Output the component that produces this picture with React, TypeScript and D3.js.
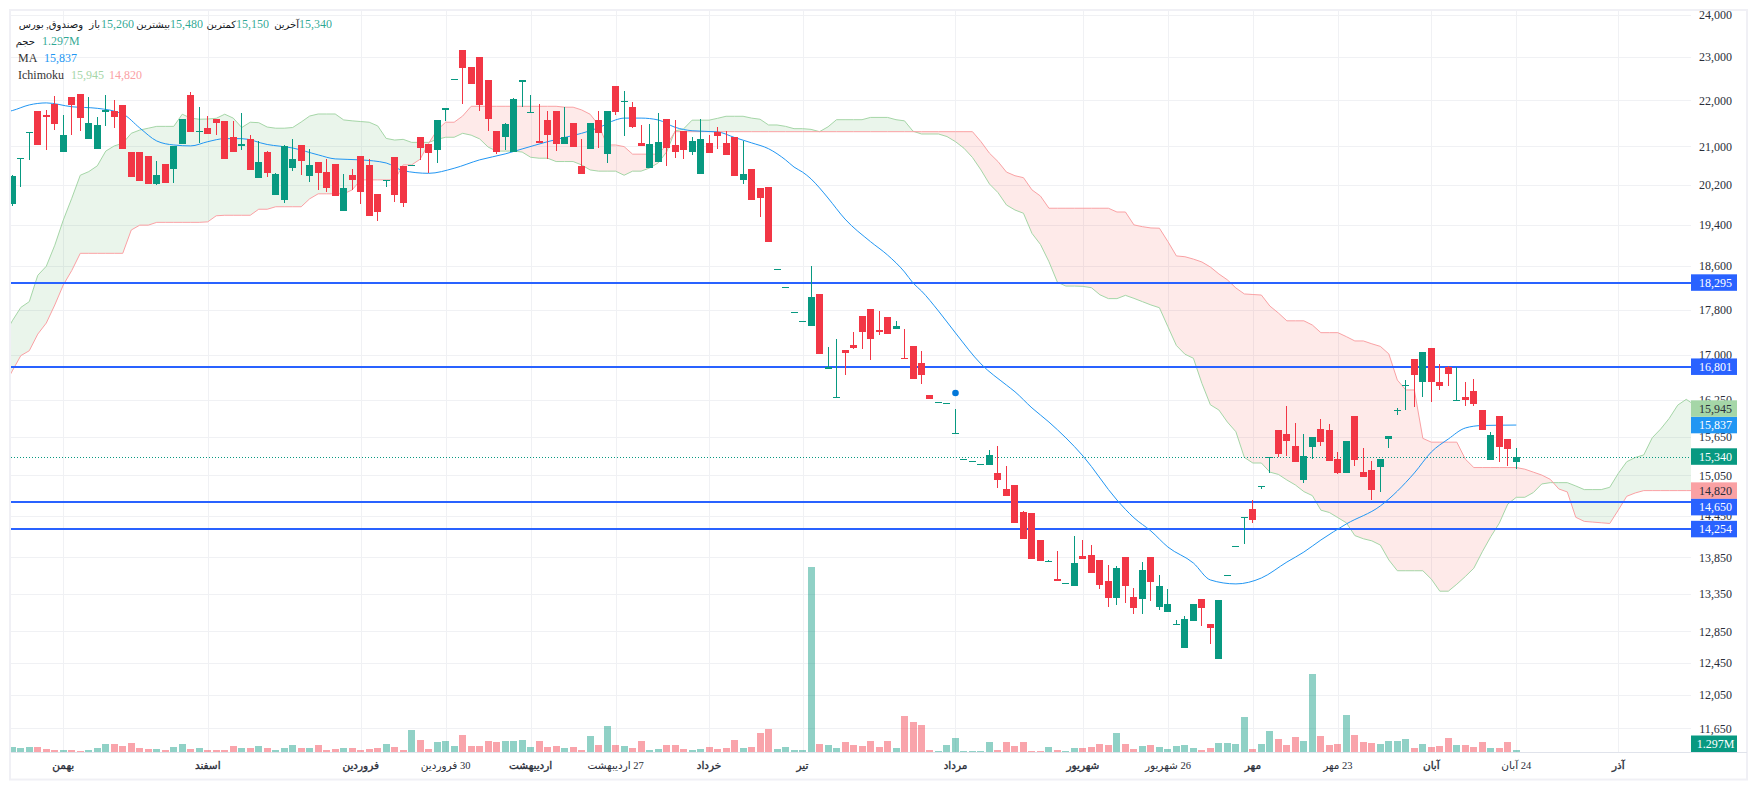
import * as d3 from "d3";

const WIDTH = 1757;
const HEIGHT = 790;

// candles, oldest first
const opens = [
  19810, 20730, 21290, 21770, 21680, 21930, 20880, 22080, 22145, 21160,
  20945, 21750, 21770, 21900, 20880, 20880, 20800, 20215, 20630, 20525,
  21050, 22120, 21310, 21395, 21590, 21550, 21200, 21010, 21160, 20340,
  20880, 19990, 19890, 20545, 21030, 20380, 20670, 20465, 20630, 19670,
  20400, 20800, 20610, 20010, 20290, 20780, 20595, 20600, 21200, 21050,
  20925, 21790, 22470, 23150, 22760, 22990, 22450, 21330, 21200, 20880,
  22410, 21720, 21115, 21570, 21770, 21050, 21505, 20590, 20945, 21570,
  20840, 22320, 21965, 21855, 21070, 20545, 20670, 21590, 21030, 21330,
  20880, 20420, 21070, 21310, 21070, 21200, 20300, 20525, 20135, 20155,
  18530, 18200, 17740, 17580, 17510, 18080, 16760, 16280, 17090, 17170,
  17690, 17810, 17440, 17670, 17460, 16950, 17160, 16860, 16330, 16200,
  16180, 15700, 15290, 15260, 15210, 15210, 15090, 14840, 14900, 14500,
  14490, 14100, 13790, 13550, 13490, 13450, 13870, 13880, 13810, 13520,
  13290, 13860, 13310, 13280, 13860, 13170, 13100, 12940, 12640, 12990,
  13280, 12950, 12500, 13590, 14000, 14420, 14540, 14870, 15320, 15760,
  15690, 15500, 14980, 15490, 15770, 15760, 15300, 15090, 15980, 15100,
  15130, 15180, 15610, 16060, 16470, 16930, 16540, 17120, 16540, 16800,
  16230, 16290, 16390, 16080, 15290, 15980, 15610, 15260,
];
const closes = [
  20380, 20750, 21310, 21030, 21630, 21480, 21240, 21900, 21610, 21500,
  21460, 21790, 21635, 20945, 20360, 20280, 20215, 20400, 20235, 21010,
  21590, 21310, 21330, 21265, 21505, 20735, 20880, 21050, 20505, 20670,
  20440, 20420, 21010, 20735, 20690, 20610, 20440, 20135, 19970, 20135,
  20300, 20055, 19570, 19650, 20300, 19990, 19830, 20610, 20965, 20860,
  21570, 21830, 22490, 22730, 22370, 21900, 21590, 20880, 21480, 22030,
  22450, 21745, 21070, 21240, 21050, 21200, 20985, 20420, 21505, 21285,
  21770, 21745, 21990, 21415, 21010, 21050, 21095, 20965, 20880, 20925,
  21115, 21160, 20860, 21220, 20820, 20380, 20420, 19890, 19930, 19060,
  18550, 18220, 17760, 17600, 18030, 17020, 16790, 16290, 17030, 17120,
  17400, 17280, 17400, 17370, 17510, 16930, 16590, 16660, 16260, 16210,
  16190, 15710, 15300, 15270, 15220, 15360, 14980, 14740, 14340, 14110,
  13830, 13800, 13800, 13520, 13500, 13770, 13830, 13630, 13470, 13290,
  13700, 13450, 13160, 13680, 13510, 13450, 13210, 12950, 13010, 13210,
  13160, 12900, 13270, 13600, 14010, 14430, 14380, 14890, 15340, 15380,
  15580, 15260, 15350, 15650, 15570, 15270, 15090, 15580, 15290, 15030,
  14830, 15300, 15660, 16080, 16490, 16660, 17050, 16540, 16470, 16680,
  16240, 16240, 16180, 15760, 15680, 15490, 15460, 15340,
];
const highs = [
  20400, 20750, 21310, 21770, 21790, 22100, 21680, 22080, 22145, 22080,
  21635, 22120, 22010, 21900, 20880, 20880, 20800, 20690, 20630, 21010,
  21590, 22190, 21855, 21655, 21590, 21550, 21550, 21720, 21240, 21115,
  20900, 20440, 21030, 21160, 21030, 20945, 20670, 20735, 20630, 20420,
  20525, 20800, 20735, 20010, 20300, 20780, 20595, 20610, 21200, 21050,
  21570, 21830, 22490, 23150, 22760, 22990, 22470, 21330, 21505, 22055,
  22450, 22120, 21920, 21770, 21770, 21855, 21505, 21160, 21505, 21770,
  21770, 22320, 22210, 21965, 21460, 21480, 21720, 21590, 21570, 21330,
  21200, 21590, 21240, 21415, 21330, 21200, 21115, 20525, 20135, 20155,
  18550, 18220, 17760, 17600, 18600, 18080, 17140, 17280, 17090, 17400,
  17690, 17810, 17770, 17670, 17600, 17450, 17160, 17070, 16330, 16210,
  16190, 16100, 15300, 15270, 15220, 15440, 15500, 15190, 14900, 14520,
  14490, 14100, 13810, 13940, 13500, 14150, 14100, 14030, 13810, 13740,
  13730, 13860, 13430, 13790, 13860, 13610, 13410, 13000, 13050, 13210,
  13280, 12950, 13270, 13600, 14010, 14430, 14680, 14890, 15340, 15760,
  16150, 15870, 15690, 15650, 15930, 15850, 15410, 15580, 15980, 15470,
  15270, 15300, 15660, 16110, 16580, 16930, 17050, 17120, 16850, 16810,
  16800, 16540, 16590, 16080, 15725, 15980, 15610, 15480,
];
const lows = [
  19760, 20160, 20710, 21030, 20920, 21350, 20880, 21240, 21330, 21160,
  20945, 21440, 21390, 20945, 20360, 20280, 20215, 20195, 20235, 20235,
  21050, 21310, 21070, 21265, 21240, 20735, 20880, 20925, 20505, 20340,
  20360, 19990, 19830, 20485, 20400, 20260, 20095, 20055, 19970, 19670,
  20095, 19810, 19570, 19470, 20155, 19850, 19750, 20600, 20715, 20435,
  20650, 21550, 22470, 21920, 22370, 21770, 21330, 20840, 20925, 20880,
  21855, 21720, 21070, 20735, 20900, 21050, 20985, 20420, 20945, 20965,
  20650, 21680, 21220, 21395, 21010, 20545, 20670, 20590, 20755, 20735,
  20820, 20420, 20860, 20945, 20820, 20380, 20215, 19890, 19550, 19060,
  18530, 18200, 17740, 17580, 17510, 17020, 16760, 16280, 16660, 17100,
  17100, 16910, 17350, 17370, 17460, 16930, 16590, 16510, 16260, 16200,
  16180, 15700, 15290, 15260, 15210, 15210, 14860, 14740, 14340, 14110,
  13830, 13800, 13790, 13520, 13490, 13450, 13830, 13630, 13410, 13170,
  13200, 13230, 13080, 13080, 13250, 13130, 13100, 12940, 12640, 12990,
  12920, 12690, 12500, 13590, 14000, 14040, 14340, 14840, 15090, 15330,
  15350, 15260, 14930, 15300, 15500, 15270, 15070, 15090, 15190, 15030,
  14680, 14800, 15470, 16000, 16080, 16130, 16290, 16210, 16410, 16470,
  16230, 16150, 16150, 15760, 15290, 15260, 15190, 15150,
];
// millions
const volumes = [
  2.95, 2.4, 2.95, 2.95, 1.85, 1.3, 1.3, 1.3, 0.75, 1.3,
  2.4, 4.6, 4.6, 3.5, 5.15, 2.4, 1.85, 1.85, 1.3, 2.95,
  4.6, 1.85, 2.4, 1.3, 1.3, 1.3, 3.5, 2.4, 2.4, 3.5,
  2.4, 1.3, 2.4, 4.05, 2.4, 2.4, 4.05, 1.3, 1.85, 2.4,
  2.4, 1.3, 1.85, 2.4, 4.6, 2.95, 1.3, 12.3, 6.8, 1.85,
  5.7, 6.25, 3.5, 9.5, 3.5, 3.5, 6.25, 5.7, 6.25, 6.25,
  6.8, 2.95, 6.25, 2.95, 3.5, 2.4, 2.95, 1.3, 9, 4.05,
  14.5, 4.05, 3.5, 2.4, 6.25, 1.3, 1.85, 4.05, 4.05, 1.85,
  1.3, 1.85, 2.95, 1.85, 2.4, 6.8, 2.4, 2.95, 10.6, 12.8,
  1.85, 2.95, 1.3, 1.3, 101.8, 4.6, 4.05, 2.4, 5.7, 4.05,
  3.5, 6.25, 2.95, 6.25, 2.4, 20, 16.7, 15, 1.3, 0.75,
  4.05, 7.9, 0.75, 0.75, 0.75, 5.7, 1.3, 5.7, 3.5, 5.7,
  0.75, 0.75, 2.95, 1.3, 0.75, 2.4, 2.4, 2.95, 4.6, 4.05,
  10.6, 4.6, 1.85, 3.5, 4.05, 2.95, 1.85, 3.5, 4.05, 2.4,
  1.3, 2.4, 5.15, 5.15, 4.6, 19.4, 1.85, 4.6, 11.7, 7.35,
  4.05, 8.4, 6.25, 43, 9, 4.05, 4.6, 20.5, 9.5, 5.7,
  5.15, 4.6, 6.25, 6.25, 7.35, 2.4, 4.6, 2.95, 3.5, 7.9,
  4.05, 4.05, 2.95, 5.7, 2.4, 2.4, 5.7, 1.297,
];

// moving average, read at these candle numbers
const maIndex = [
  -1, 0, 2, 4, 7, 10, 13, 15, 17, 19, 21, 23, 25, 27, 30, 33, 36, 38, 41, 44, 46,
  49, 52, 55, 58, 60, 63, 65, 67, 69, 71, 72, 74, 76, 78, 80, 83, 85, 87, 89, 91,
  92, 93, 94, 95, 96, 98, 101, 103, 105, 106, 107, 109, 111, 114, 117, 118, 120, 122, 126, 130, 132, 134, 136, 139,
  141, 144, 147, 150, 152, 154, 157, 161, 165, 167, 169, 171, 173, 177,
];
const maValues = [
  21730, 21775, 21900, 21945, 21860, 21825, 21700, 21395, 21115, 21030, 21010, 21100, 21165, 21165, 21040, 20965, 20820, 20735, 20715, 20650, 20490,
  20435, 20540, 20715, 20840, 20945, 21100, 21190, 21280, 21400, 21570, 21610, 21610, 21570, 21410, 21335, 21310, 21190, 21075, 20950, 20715,
  20565, 20460, 20320, 20135, 19930, 19510, 19069, 18813, 18493, 18288, 18140, 17775, 17385, 16848, 16491, 16380, 16114, 15885, 15349, 14680, 14418, 14226, 13997, 13772,
  13538, 13484, 13565, 13786, 13926, 14097, 14328, 14592, 15087, 15411, 15615, 15790, 15830, 15837,
];

// ichimoku spans start one candle before the first candle, run 21 past the last
const cloudStart = -1;
const spanA = [
  17330, 17600, 17840, 17945, 18430, 18600, 19000, 19490, 19925, 20395,
  20470, 20590, 20900, 21010, 21065, 21280, 21350, 21390, 21430, 21430,
  21430, 21695, 21610, 21585, 21590, 21605, 21695, 21610, 21405, 21520,
  21510, 21415, 21390, 21390, 21405, 21525, 21655, 21700, 21700, 21700,
  21570, 21550, 21535, 21520, 21440, 21170, 21135, 21150, 21085, 21085,
  21085, 21150, 21195, 21195, 21280, 21240, 21160, 20985, 20900, 20900,
  20900, 20880, 20770, 20750, 20750, 20680, 20680, 20680, 20610, 20505,
  20480, 20480, 20480, 20395, 20480, 20480, 20545, 20650, 20880, 21330,
  21375, 21565, 21565, 21565, 21605, 21650, 21650, 21650, 21610, 21585,
  21460, 21460, 21430, 21380, 21380, 21365, 21315, 21420, 21575, 21575,
  21575, 21575, 21625, 21625, 21625, 21575, 21550, 21325, 21265, 21265,
  21265, 21210, 21100, 20960, 20765, 20505, 20215, 20040, 19790, 19690,
  19625, 19230, 19015, 18685, 18300, 18230, 18230, 18225, 18200, 18070,
  18000, 18000, 18060, 18005, 17945, 17885, 17835, 17495, 17165, 17015,
  16945, 16520, 16165, 16080, 15885, 15730, 15325, 15240, 15240, 15100,
  15065, 14980, 14905, 14805, 14745, 14530, 14495, 14420, 14345, 14160,
  14115, 14085, 14025, 13815, 13665, 13665, 13665, 13665, 13550, 13385,
  13385, 13480, 13585, 13700, 13930, 14145, 14340, 14620, 14720, 14720,
  14790, 14920, 14940, 14940, 14940, 14890, 14835, 14835, 14835, 14870,
  15080, 15260, 15325, 15365, 15635, 15775, 15945, 16160, 16255, 16160,
];
const spanB = [
  16470, 16730, 16990, 17075, 17365, 17560, 17885, 18250, 18520, 18845,
  18845, 18845, 18845, 18845, 18845, 19295, 19390, 19390, 19445, 19445,
  19445, 19445, 19445, 19445, 19455, 19575, 19585, 19585, 19585, 19585,
  19705, 19705, 19755, 19755, 19755, 19755, 19915, 20015, 20015, 20015,
  20015, 20095, 20300, 20300, 20300, 20300, 20300, 20610, 20610, 20730,
  21065, 21350, 21520, 21520, 21655, 21870, 21870, 21870, 21870, 21870,
  21870, 21870, 21870, 21870, 21870, 21870, 21850, 21850, 21790, 21695,
  21460, 21030, 21030, 20995, 20835, 20835, 20835, 20835, 21030, 21315,
  21315, 21315, 21315, 21315, 21315, 21315, 21315, 21315, 21315, 21315,
  21315, 21315, 21315, 21315, 21315, 21315, 21315, 21315, 21315, 21315,
  21315, 21315, 21315, 21315, 21315, 21315, 21315, 21315, 21315, 21315,
  21315, 21315, 21315, 21315, 21315, 21100, 20855, 20680, 20460, 20385,
  20345, 20095, 19970, 19725, 19725, 19725, 19725, 19725, 19725, 19725,
  19725, 19650, 19650, 19395, 19360, 19335, 19330, 19070, 18795, 18780,
  18735, 18680, 18585, 18455, 18345, 18195, 18085, 18075, 18065, 17865,
  17740, 17600, 17600, 17600, 17525, 17390, 17390, 17390, 17320, 17245,
  17245, 17195, 17150, 17020, 16575, 16410, 16410, 15625, 15565, 15565,
  15565, 15565, 15300, 15170, 15170, 15170, 15170, 15170, 15170, 15145,
  15100, 15055, 14990, 14845, 14800, 14425, 14365, 14355, 14345, 14335,
  14530, 14735, 14785, 14820, 14820, 14820, 14820, 14820, 14820, 14820,
];

const priceTicks = [24000, 23000, 22000, 21000, 20200, 19400, 18600, 17800, 17000, 16250, 15650, 15050, 14450, 13850, 13350, 12850, 12450, 12050, 11650];
const levelLines = [18295, 16801, 14650, 14254];
const lastClose = 15340;
const maLast = 15837;
const spanALast = 15945;
const spanBLast = 14820;
const markerIndex = 111;
const markerPrice = 16360;

const timeTicks = [6, 23, 41, 51, 61, 71, 82, 93, 111, 126, 136, 146, 156, 167, 177, 189];
const timeLabels = ["بهمن", "اسفند", "فروردین", "30 فروردین", "اردیبهشت", "27 اردیبهشت", "خرداد", "تیر", "مرداد", "شهریور", "26 شهریور", "مهر", "23 مهر", "آبان", "24 آبان", "آذر"];
const timeLabelBold = [true, true, true, false, true, false, true, true, true, true, false, true, false, true, false, true];

const UP = "#089981";
const DOWN = "#f23645";
const MA_COLOR = "#2196f3";
const SPAN_A_COLOR = "#a5d6a7";
const SPAN_B_COLOR = "#faa1a4";
const LEVEL_COLOR = "#2962ff";
const GRID = "#f0f1f4";
const FRAME = "#f0f0f5";
const TEXT = "#2a2e39";
const SERIF = "'Liberation Serif', 'Times New Roman', serif";
const PERSIAN = "'Liberation Serif', 'DejaVu Sans', sans-serif";

const plot = { left: 11, right: 1691, top: 11, bottom: 752 };
const TAG_H = 16.5;

const x = d3.scaleLinear().domain([0, 177]).range([12.3, 1516.3]);
const y = d3.scaleLog().domain([24000, 11650]).range([14.5, 728.3]);
const vol = d3.scaleLinear().domain([0, 100]).range([plot.bottom, plot.bottom - 181.8]);

const fmt = d3.format(",");

const cloud = spanA.map((a, i) => ({ i: i + cloudStart, a, b: spanB[i] }));
type CloudPt = (typeof cloud)[number];
const lineA = d3.line<CloudPt>().x((d) => x(d.i)).y((d) => y(d.a));
const lineB = d3.line<CloudPt>().x((d) => x(d.i)).y((d) => y(d.b));
const between = d3.area<CloudPt>().x((d) => x(d.i)).y0((d) => y(d.a)).y1((d) => y(d.b));
const aboveB = d3.area<CloudPt>().x((d) => x(d.i)).y0(plot.top).y1((d) => y(d.b));
const belowB = d3.area<CloudPt>().x((d) => x(d.i)).y0(plot.bottom).y1((d) => y(d.b));

const maLine = d3
  .line<number>()
  .x((d) => x(d))
  .y((_, i) => y(maValues[i]))
  .curve(d3.curveMonotoneX);

// price tags on the axis, pushed apart when they would overlap; earlier ones stay put
function layoutTags() {
  const tags = [
    { value: lastClose, bg: UP, fg: "#fff" },
    { value: maLast, bg: MA_COLOR, fg: "#fff" },
    { value: spanBLast, bg: SPAN_B_COLOR, fg: TEXT },
    { value: levelLines[0], bg: LEVEL_COLOR, fg: "#fff" },
    { value: levelLines[1], bg: LEVEL_COLOR, fg: "#fff" },
    { value: levelLines[3], bg: LEVEL_COLOR, fg: "#fff" },
    { value: levelLines[2], bg: LEVEL_COLOR, fg: "#fff" },
    { value: spanALast, bg: SPAN_A_COLOR, fg: TEXT },
  ];
  const placed: { value: number; bg: string; fg: string; cy: number }[] = [];
  tags.forEach((t) => {
    let cy = y(t.value);
    placed.forEach((p) => {
      if (Math.abs(cy - p.cy) < TAG_H) cy = cy < p.cy ? p.cy - TAG_H : p.cy + TAG_H;
    });
    placed.push({ ...t, cy });
  });
  return placed;
}

export default function App() {
  const tags = layoutTags();
  return (
    <svg width={WIDTH} height={HEIGHT} style={{ position: "absolute", left: 0, top: 0, background: "#fff" }}>
      <defs>
        <clipPath id="plot-clip">
          <rect x={plot.left} y={plot.top} width={plot.right - plot.left} height={plot.bottom - plot.top} />
        </clipPath>
        <clipPath id="above-b">
          <path d={aboveB(cloud) ?? ""} />
        </clipPath>
        <clipPath id="below-b">
          <path d={belowB(cloud) ?? ""} />
        </clipPath>
      </defs>

      {/* frame */}
      <rect x={10} y={10} width={1737} height={769.5} fill="none" stroke={FRAME} strokeWidth={2} />

      {/* grid */}
      {priceTicks.map((t) => (
        <line key={t} x1={plot.left} x2={plot.right} y1={Math.round(y(t)) + 0.5} y2={Math.round(y(t)) + 0.5} stroke={GRID} />
      ))}
      {timeTicks.map((t) => (
        <line key={t} x1={Math.round(x(t)) + 0.5} x2={Math.round(x(t)) + 0.5} y1={plot.top} y2={plot.bottom} stroke={GRID} />
      ))}
      <line x1={plot.left} x2={plot.right + 56} y1={plot.bottom + 0.5} y2={plot.bottom + 0.5} stroke="#e0e3eb" />

      <g clipPath="url(#plot-clip)">
        {/* volume */}
        {volumes.map((v, i) => {
          const bx = Math.round(x(i) - 3.5);
          const top = Math.round(vol(v));
          return (
            <rect
              key={i}
              x={bx}
              y={top}
              width={7}
              height={plot.bottom - top}
              fill={closes[i] >= opens[i] ? UP : DOWN}
              fillOpacity={0.45}
            />
          );
        })}

        {/* ichimoku cloud */}
        <path d={between(cloud) ?? ""} fill="#43a047" fillOpacity={0.11} clipPath="url(#above-b)" />
        <path d={between(cloud) ?? ""} fill="#f44336" fillOpacity={0.11} clipPath="url(#below-b)" />
        <path d={lineA(cloud) ?? ""} fill="none" stroke={SPAN_A_COLOR} strokeWidth={1} />
        <path d={lineB(cloud) ?? ""} fill="none" stroke={SPAN_B_COLOR} strokeWidth={1} />

        {/* level lines */}
        {levelLines.map((l) => (
          <line key={l} x1={plot.left} x2={plot.right} y1={Math.round(y(l))} y2={Math.round(y(l))} stroke={LEVEL_COLOR} strokeWidth={2} />
        ))}

        <line
          x1={plot.left}
          x2={plot.right}
          y1={Math.round(y(lastClose)) + 0.5}
          y2={Math.round(y(lastClose)) + 0.5}
          stroke={UP}
          strokeDasharray="1 2"
        />

        <path d={maLine(maIndex) ?? ""} fill="none" stroke={MA_COLOR} strokeWidth={1} />

        {/* candles */}
        {opens.map((o, i) => {
          const c = closes[i];
          const color = c >= o ? UP : DOWN;
          const bx = Math.round(x(i) - 3.5);
          const top = Math.round(y(Math.max(o, c)));
          const bottom = Math.round(y(Math.min(o, c)));
          const wickTop = Math.round(y(highs[i]));
          const wickBottom = Math.round(y(lows[i]));
          return (
            <g key={i} fill={color}>
              <rect x={bx + 3} y={wickTop} width={1} height={Math.max(0, wickBottom - wickTop)} />
              <rect x={bx} y={top} width={7} height={Math.max(1, bottom - top)} />
            </g>
          );
        })}

        <circle cx={x(markerIndex)} cy={y(markerPrice)} r={3.3} fill="#0277d9" />
      </g>

      {/* price axis */}
      <g fontFamily={SERIF} fontSize={12} fill={TEXT} textAnchor="middle">
        {priceTicks.map((t) => (
          <text key={t} x={1715.5} y={y(t)} dy="0.35em">
            {fmt(t)}
          </text>
        ))}
        {tags.map((t) => (
          <g key={t.value}>
            <rect x={plot.right} y={t.cy - TAG_H / 2} width={46} height={TAG_H} fill={t.bg} />
            <text x={1715.5} y={t.cy} dy="0.35em" fill={t.fg}>
              {fmt(t.value)}
            </text>
          </g>
        ))}
        <rect x={plot.right} y={plot.bottom - TAG_H} width={46} height={TAG_H} fill={UP} />
        <text x={1715.5} y={plot.bottom - TAG_H / 2} dy="0.35em" fill="#fff">
          1.297M
        </text>
      </g>

      {/* time axis */}
      <g fontFamily={PERSIAN} fontSize={10.5} fill={TEXT} textAnchor="middle">
        {timeTicks.map((t, i) => (
          <text
            key={t}
            x={x(t)}
            y={765}
            dy="0.35em"
            direction="rtl"
            stroke={timeLabelBold[i] ? TEXT : "none"}
            strokeWidth={0.35}
          >
            {timeLabels[i]}
          </text>
        ))}
      </g>

      {/* legend */}
      <g fontSize={10} fontFamily={PERSIAN} dominantBaseline="central">
        <g fill="#131722">
          <text x={83} y={24} textAnchor="end">وصندوق, بورس</text>
          <text x={100} y={24} textAnchor="end">باز</text>
          <text x={170} y={24} textAnchor="end">بیشترین</text>
          <text x={236} y={24} textAnchor="end">کمترین</text>
          <text x={299} y={24} textAnchor="end">آخرین</text>
          <text x={35} y={41} textAnchor="end">حجم</text>
        </g>
        <g fill={UP} fillOpacity={0.85} fontFamily={SERIF} fontSize={12}>
          <text x={101} y={24}>{fmt(opens[177])}</text>
          <text x={170} y={24}>{fmt(highs[177])}</text>
          <text x={236} y={24}>{fmt(lows[177])}</text>
          <text x={299} y={24}>{fmt(closes[177])}</text>
          <text x={42} y={41}>1.297M</text>
        </g>
        <g fontFamily={SERIF} fontSize={12}>
          <text x={18} y={58} fill="#333">MA</text>
          <text x={44} y={58} fill={MA_COLOR}>{fmt(maLast)}</text>
          <text x={18} y={75} fill="#333">Ichimoku</text>
          <text x={71} y={75} fill={SPAN_A_COLOR}>{fmt(spanALast)}</text>
          <text x={109} y={75} fill={SPAN_B_COLOR}>{fmt(spanBLast)}</text>
        </g>
      </g>
    </svg>
  );
}
